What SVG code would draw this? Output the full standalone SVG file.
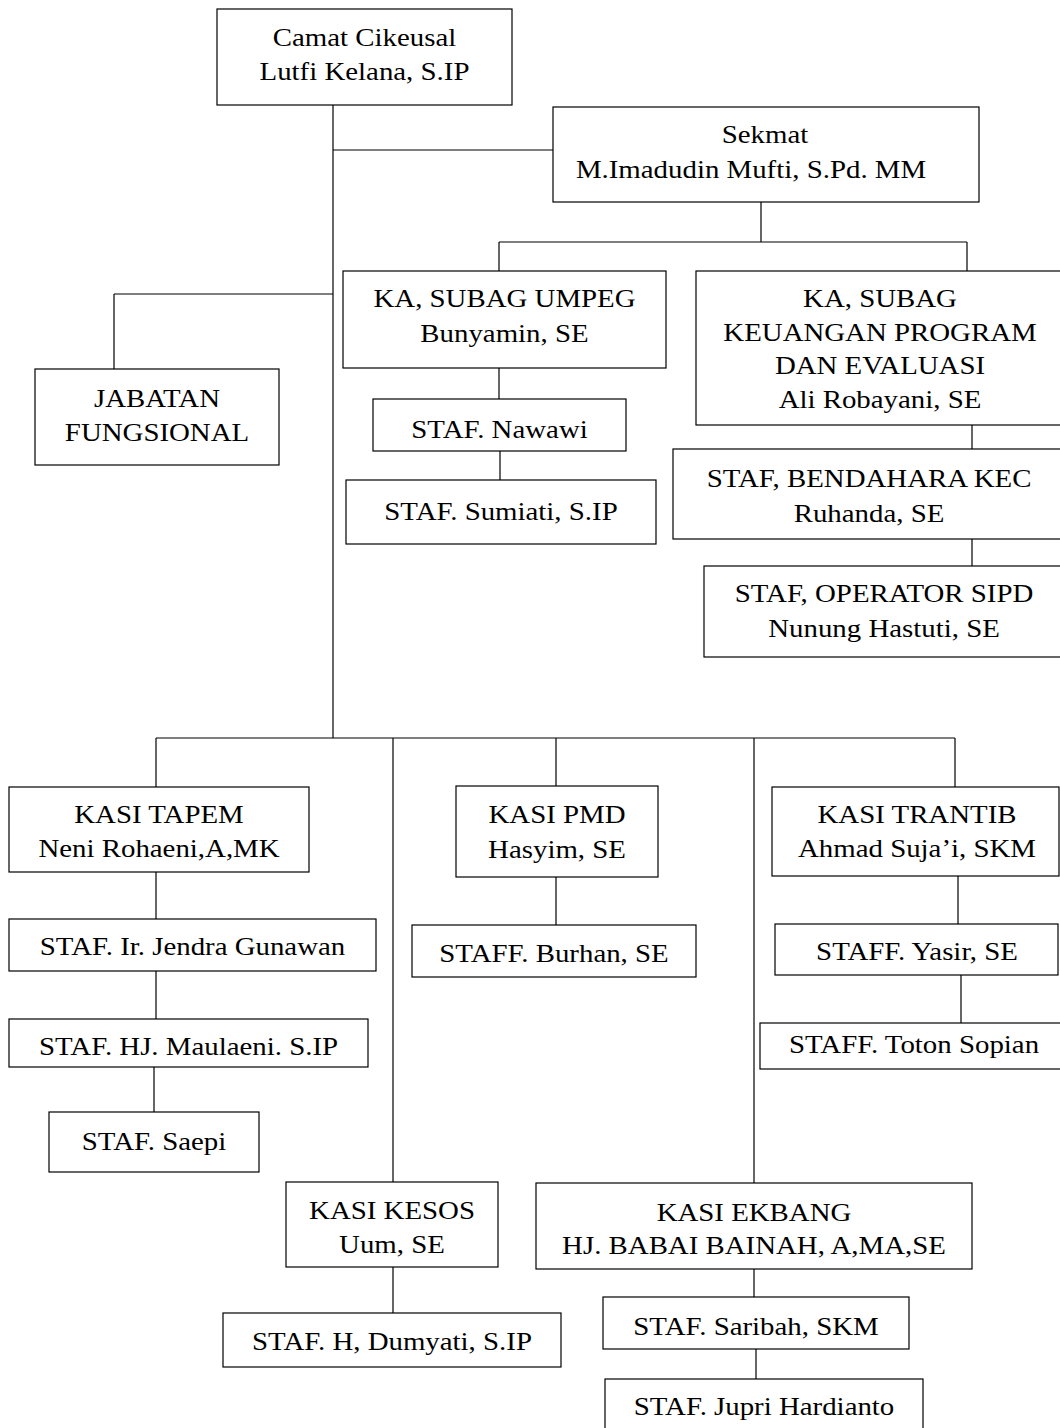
<svg xmlns="http://www.w3.org/2000/svg" width="1060" height="1428" viewBox="0 0 1060 1428">
<style>
rect{fill:#fff;stroke:#000;stroke-width:1.2}
.c line{stroke:#000;stroke-width:1.2}
text{font-family:"Liberation Serif","Times New Roman",serif;font-size:26px;fill:#000;text-anchor:middle}
</style>
<rect x="0" y="0" width="1060" height="1428" style="stroke:none"/>
<g class="c" id="connectors">
<line x1="333" y1="105" x2="333" y2="738"/>
<line x1="333" y1="150" x2="553" y2="150"/>
<line x1="761" y1="202" x2="761" y2="242"/>
<line x1="499" y1="242" x2="967" y2="242"/>
<line x1="499" y1="242" x2="499" y2="271"/>
<line x1="967" y1="242" x2="967" y2="271"/>
<line x1="114" y1="294" x2="333" y2="294"/>
<line x1="114" y1="294" x2="114" y2="369"/>
<line x1="499" y1="368" x2="499" y2="399"/>
<line x1="500" y1="451" x2="500" y2="480"/>
<line x1="972" y1="425" x2="972" y2="449"/>
<line x1="972" y1="539" x2="972" y2="566"/>
<line x1="156" y1="738" x2="955" y2="738"/>
<line x1="156" y1="738" x2="156" y2="787"/>
<line x1="156" y1="872" x2="156" y2="919"/>
<line x1="156" y1="971" x2="156" y2="1019"/>
<line x1="154" y1="1067" x2="154" y2="1112"/>
<line x1="393" y1="738" x2="393" y2="1182"/>
<line x1="393" y1="1267" x2="393" y2="1313"/>
<line x1="556" y1="738" x2="556" y2="786"/>
<line x1="556" y1="877" x2="556" y2="925"/>
<line x1="754" y1="738" x2="754" y2="1183"/>
<line x1="754" y1="1269" x2="754" y2="1297"/>
<line x1="756" y1="1349" x2="756" y2="1379"/>
<line x1="955" y1="738" x2="955" y2="787"/>
<line x1="958" y1="876" x2="958" y2="924"/>
<line x1="961" y1="975" x2="961" y2="1023"/>
</g>
<g id="camat"><rect x="217" y="9" width="295" height="96"/>
<text transform="translate(364.5,46) scale(1.11,1)">Camat Cikeusal</text>
<text transform="translate(364.5,80) scale(1.11,1)">Lutfi Kelana, S.IP</text></g>
<g id="sekmat"><rect x="553" y="107" width="426" height="95"/>
<text transform="translate(765,143) scale(1.11,1)">Sekmat</text>
<text transform="translate(751,178) scale(1.11,1)">M.Imadudin Mufti, S.Pd. MM</text></g>
<g id="jabatan"><rect x="35" y="369" width="244" height="96"/>
<text transform="translate(157,407) scale(1.11,1)">JABATAN</text>
<text transform="translate(157,441) scale(1.11,1)">FUNGSIONAL</text></g>
<g id="umpeg"><rect x="343" y="271" width="323" height="97"/>
<text transform="translate(504.5,307) scale(1.11,1)">KA, SUBAG UMPEG</text>
<text transform="translate(504.5,342) scale(1.11,1)">Bunyamin, SE</text></g>
<g id="nawawi"><rect x="373" y="399" width="253" height="52"/>
<text transform="translate(499.5,438) scale(1.11,1)">STAF. Nawawi</text></g>
<g id="sumiati"><rect x="346" y="480" width="310" height="64"/>
<text transform="translate(501,520) scale(1.11,1)">STAF. Sumiati, S.IP</text></g>
<g id="keuangan"><rect x="696" y="271" width="368" height="154"/>
<text transform="translate(880,307) scale(1.11,1)">KA, SUBAG</text>
<text transform="translate(880,341) scale(1.11,1)">KEUANGAN PROGRAM</text>
<text transform="translate(880,374) scale(1.11,1)">DAN EVALUASI</text>
<text transform="translate(880,408) scale(1.11,1)">Ali Robayani, SE</text></g>
<g id="bendahara"><rect x="673" y="449" width="392" height="90"/>
<text transform="translate(869,487) scale(1.11,1)">STAF, BENDAHARA KEC</text>
<text transform="translate(869,522) scale(1.11,1)">Ruhanda, SE</text></g>
<g id="operator"><rect x="704" y="566" width="360" height="91"/>
<text transform="translate(884,602) scale(1.11,1)">STAF, OPERATOR SIPD</text>
<text transform="translate(884,637) scale(1.11,1)">Nunung Hastuti, SE</text></g>
<g id="tapem"><rect x="9" y="787" width="300" height="85"/>
<text transform="translate(159,823) scale(1.11,1)">KASI TAPEM</text>
<text transform="translate(159,857) scale(1.11,1)">Neni Rohaeni,A,MK</text></g>
<g id="jendra"><rect x="9" y="919" width="367" height="52"/>
<text transform="translate(192.5,955) scale(1.11,1)">STAF. Ir. Jendra Gunawan</text></g>
<g id="maulaeni"><rect x="9" y="1019" width="359" height="48"/>
<text transform="translate(188.5,1055) scale(1.11,1)">STAF. HJ. Maulaeni. S.IP</text></g>
<g id="saepi"><rect x="49" y="1112" width="210" height="60"/>
<text transform="translate(154,1150) scale(1.11,1)">STAF. Saepi</text></g>
<g id="pmd"><rect x="456" y="786" width="202" height="91"/>
<text transform="translate(557,823) scale(1.11,1)">KASI PMD</text>
<text transform="translate(557,858) scale(1.11,1)">Hasyim, SE</text></g>
<g id="burhan"><rect x="412" y="925" width="284" height="52"/>
<text transform="translate(554,962) scale(1.11,1)">STAFF. Burhan, SE</text></g>
<g id="trantib"><rect x="772" y="787" width="287" height="89"/>
<text transform="translate(917,823) scale(1.11,1)">KASI TRANTIB</text>
<text transform="translate(917,857) scale(1.11,1)">Ahmad Suja’i, SKM</text></g>
<g id="yasir"><rect x="775" y="924" width="283" height="51"/>
<text transform="translate(917,960) scale(1.11,1)">STAFF. Yasir, SE</text></g>
<g id="toton"><rect x="760" y="1023" width="306" height="46"/>
<text transform="translate(914,1053) scale(1.11,1)">STAFF. Toton Sopian</text></g>
<g id="kesos"><rect x="286" y="1182" width="212" height="85"/>
<text transform="translate(392,1219) scale(1.11,1)">KASI KESOS</text>
<text transform="translate(392,1253) scale(1.11,1)">Uum, SE</text></g>
<g id="dumyati"><rect x="223" y="1313" width="338" height="54"/>
<text transform="translate(392,1350) scale(1.11,1)">STAF. H, Dumyati, S.IP</text></g>
<g id="ekbang"><rect x="536" y="1183" width="436" height="86"/>
<text transform="translate(754,1221) scale(1.11,1)">KASI EKBANG</text>
<text transform="translate(754,1254) scale(1.11,1)">HJ. BABAI BAINAH, A,MA,SE</text></g>
<g id="saribah"><rect x="603" y="1297" width="306" height="52"/>
<text transform="translate(756,1335) scale(1.11,1)">STAF. Saribah, SKM</text></g>
<g id="jupri"><rect x="605" y="1379" width="318" height="60"/>
<text transform="translate(764,1415) scale(1.11,1)">STAF. Jupri Hardianto</text></g>
</svg>
